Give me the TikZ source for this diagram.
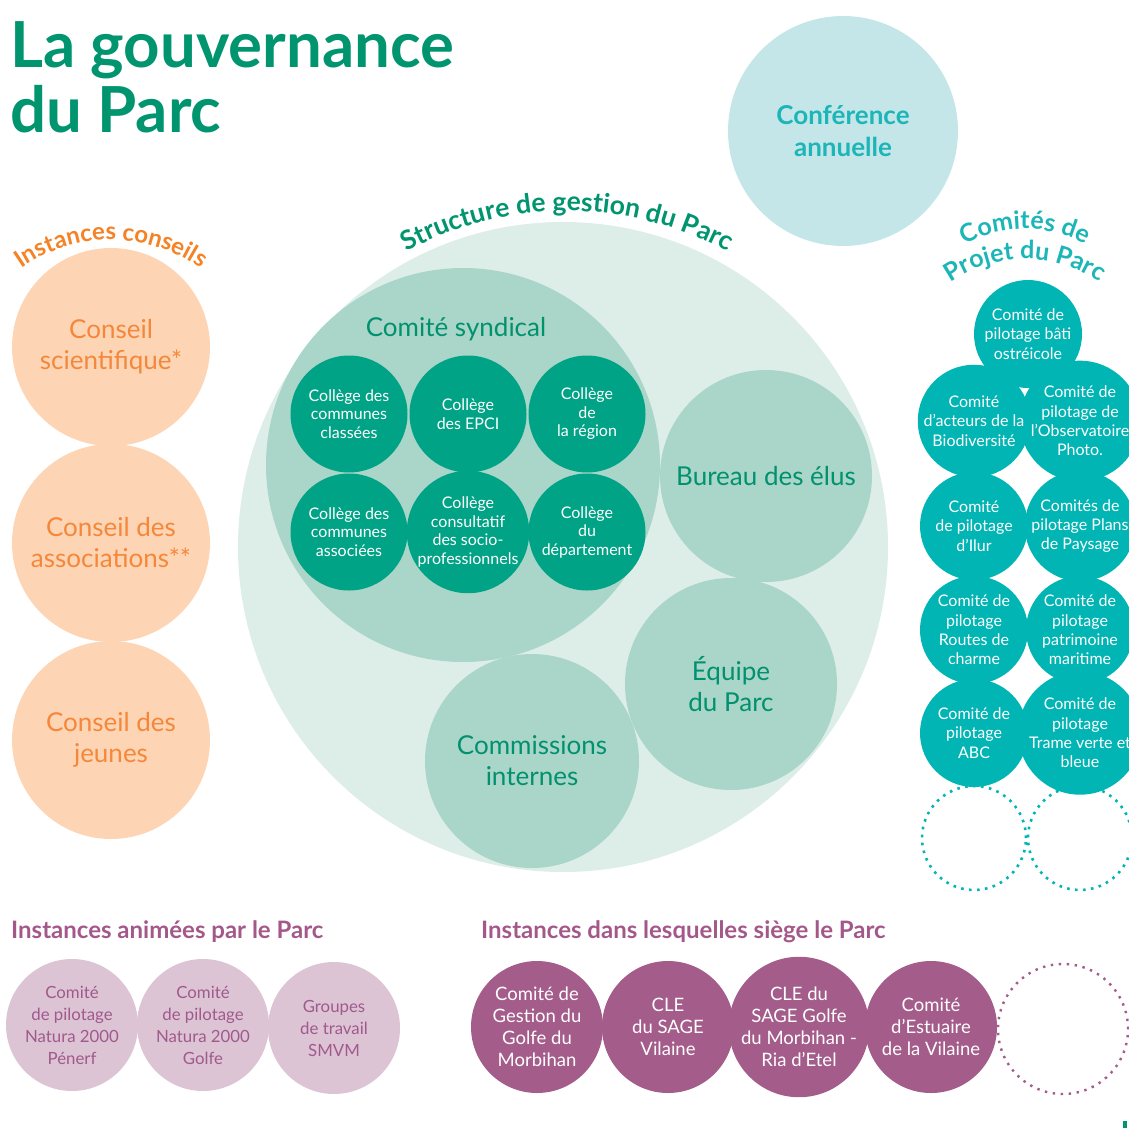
\documentclass[tikz,border=0pt]{standalone}
\usepackage{fontspec}
\setmainfont{Lato}
\usetikzlibrary{decorations.text}

\definecolor{titlegreen}{HTML}{00956F}
\definecolor{textgreen}{HTML}{00916E}
\definecolor{structfill}{HTML}{DDEDE8}
\definecolor{midfill}{HTML}{AAD5C9}
\definecolor{collegefill}{HTML}{00A385}
\definecolor{conffill}{HTML}{C4E6E8}
\definecolor{teal}{HTML}{1CB5B8}
\definecolor{tealfill}{HTML}{00B5B4}
\definecolor{orangefill}{HTML}{FDD5B4}
\definecolor{orangetext}{HTML}{F5873A}
\definecolor{orangehead}{HTML}{F58224}
\definecolor{mauvefill}{HTML}{DCC4D5}
\definecolor{mauvetext}{HTML}{A0598C}
\definecolor{purplefill}{HTML}{A45C8A}
\definecolor{purplehead}{HTML}{A4588A}

\tikzset{
  disc/.style={circle, inner sep=0pt, align=center},
  conseil/.style={disc, fill=orangefill, text=orangetext, minimum size=198pt,
    font=\fontsize{26}{31}\selectfont},
  organe/.style={disc, fill=midfill, text=textgreen, font=\fontsize{26}{31}\selectfont},
  college/.style={disc, fill=collegefill, text=white, minimum size=117pt,
    font=\fontsize{16}{18.5}\selectfont},
  projet/.style={disc, fill=tealfill, text=white, minimum size=108pt,
    font=\fontsize{16}{19.3}\selectfont},
  projetvide/.style={disc, draw=tealfill, minimum size=104pt, line width=2.6pt,
    dash pattern=on 2.6pt off 5.4pt},
  anime/.style={disc, fill=mauvefill, text=mauvetext, minimum size=132pt,
    font=\fontsize{16.8}{22}\selectfont},
  siege/.style={disc, fill=purplefill, text=white, minimum size=132pt,
    font=\fontsize{18.5}{22}\selectfont},
  siegevide/.style={disc, draw=purplefill, minimum size=130pt, line width=2.4pt,
    dash pattern=on 2.4pt off 5.6pt},
  heading/.style={anchor=base west, inner sep=0pt, text=purplehead,
    font=\bfseries\fontsize{24}{28}\selectfont},
}

\begin{document}
\begin{tikzpicture}[x=1pt, y=-1pt]
\useasboundingbox (0,0) rectangle (1128,1129);

% title
\node[anchor=base west, inner sep=0pt, text=titlegreen,
  font=\bfseries\fontsize{63.5}{64}\selectfont] (title1) at (10,68) {La gouvernance};
\node[anchor=base west, inner sep=0pt, text=titlegreen,
  font=\bfseries\fontsize{63.5}{64}\selectfont] (title2) at (10,132) {du Parc};

% annual conference
\node[disc, fill=conffill, text=teal, minimum size=230pt,
  font=\bfseries\fontsize{26}{32}\selectfont] (conf) at (843,131) {Conférence\\annuelle};

% advisory bodies
\path[decorate, decoration={text along path, text align=center, text color=orangehead,
  text={|\bfseries\fontsize{24}{24}\selectfont|Instances conseils}}]
  (111,397) ++(195:157) arc[start angle=195, end angle=345, radius=157];
\node[conseil] (cs) at (111,347) {Conseil\\scientifique*};
\node[conseil] (ca) at (111,543) {Conseil des\\associations**};
\node[conseil] (cj) at (111,740) {Conseil des\\jeunes};

% management structure
\node[disc, fill=structfill, minimum size=650pt] (structure) at (563,547) {};
\path[decorate, decoration={text along path, text align=center, text color=titlegreen,
  text={|\bfseries\fontsize{26.5}{26.5}\selectfont|Structure de gestion du Parc}}]
  (567,547) ++(200:336) arc[start angle=200, end angle=340, radius=336];

\node[disc, fill=midfill, minimum size=394pt] (syndical) at (463,465) {};
\node[text=textgreen, font=\fontsize{26}{30}\selectfont] (syndicallabel) at (456,329) {Comité syndical};

\node[college] (c1) at (349,414) {Collège des\\communes\\classées};
\node[college] (c2) at (468,414) {Collège\\des EPCI};
\node[college] (c3) at (587,414) {Collège\\de\\la région};
\node[college] (c4) at (349,532) {Collège des\\communes\\associées};
\node[college] (c5) at (468,532) {Collège\\consultatif\\des socio-\\professionnels};
\node[college] (c6) at (587,532) {Collège\\du\\département};

\node[organe, minimum size=212pt] (bureau) at (766,476) {Bureau des élus};
\node[organe, minimum size=212pt] (equipe) at (731,684) {Équipe\\du Parc};
\node[organe, minimum size=214pt] (commissions) at (532,761) {Commissions\\internes};

% project committees
\path[decorate, decoration={text along path, text align=center, text color=teal,
  text={|\bfseries\fontsize{25}{25}\selectfont|Comités de}}]
  (1025,355) ++(200:126) arc[start angle=200, end angle=340, radius=126];
\path[decorate, decoration={text along path, text align=center, text color=teal,
  text={|\bfseries\fontsize{25}{25}\selectfont|Projet du Parc}}]
  (1025,389) ++(200:130) arc[start angle=200, end angle=340, radius=130];

\node[projet] (p1) at (1028,334) {Comité de\\pilotage bâti\\ostréicole};
\node[projet] (p3) at (1080,421) {Comité de\\pilotage de\\l’Observatoire\\Photo.};
\node[projet] (p2) at (974,421) {Comité\\d’acteurs de la\\Biodiversité};
\node[projet] (p4) at (974,526) {Comité\\de pilotage\\d’Ilur};
\node[projet] (p5) at (1080,526) {Comités de\\pilotage Plans\\de Paysage};
\node[projet] (p6) at (974,630) {Comité de\\pilotage\\Routes de\\charme};
\node[projet] (p7) at (1080,630) {Comité de\\pilotage\\patrimoine\\maritime};
\node[projet] (p8) at (974,733) {Comité de\\pilotage\\ABC};
\node[projet] (p9) at (1080,733) {Comité de\\pilotage\\Trame verte et\\bleue};
\node[projetvide] (p10) at (974,838) {};
\node[projetvide] (p11) at (1080,838) {};

% bodies run by the Park
\node[heading] (hanime) at (11,938) {Instances animées par le Parc};
\node[anime] (a1) at (72,1025) {Comité\\de pilotage\\Natura 2000\\Pénerf};
\node[anime] (a2) at (203,1025) {Comité\\de pilotage\\Natura 2000\\Golfe};
\node[anime] (a3) at (334,1028) {Groupes\\de travail\\SMVM};

% bodies the Park sits on
\node[heading] (hsiege) at (481,938) {Instances dans lesquelles siège le Parc};
\node[siege] (s1) at (537,1027) {Comité de\\Gestion du\\Golfe du\\Morbihan};
\node[siege] (s2) at (668,1027) {CLE\\du SAGE\\Vilaine};
\node[siege] (s3) at (799,1027) {CLE du\\SAGE Golfe\\du Morbihan -\\Ria d’Etel};
\node[siege] (s4) at (931,1027) {Comité\\d’Estuaire\\de la Vilaine};
\node[siegevide] (s5) at (1063,1029) {};

% corner mark
\fill[titlegreen] (1123,1121) rectangle (1127,1128);
\end{tikzpicture}
\end{document}
